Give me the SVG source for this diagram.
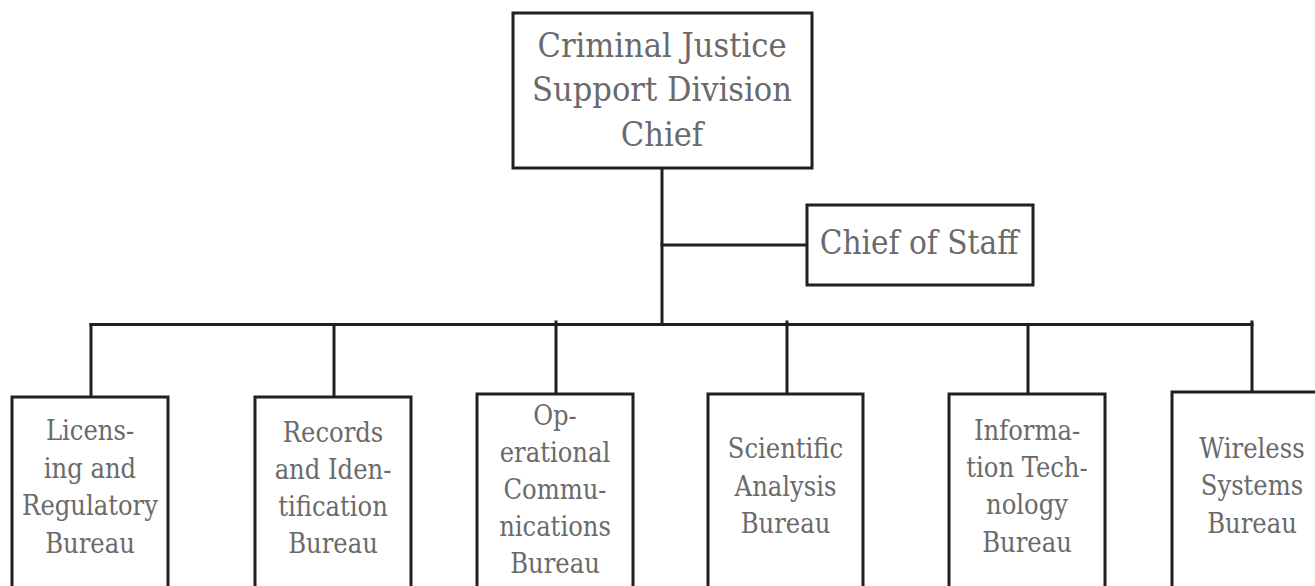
<svg xmlns="http://www.w3.org/2000/svg" width="1315" height="586" viewBox="0 0 1315 586">
<style>
  .box { fill: #ffffff; stroke: #231f20; stroke-width: 3; }
  .wire { stroke: #231f20; stroke-width: 3; fill: none; stroke-linecap: square; }
  .t { font-family: "DejaVu Serif Condensed", "DejaVu Serif", serif; fill: #6a6a6a; text-anchor: middle; }
  .big { font-size: 33px; }
  .top { font-size: 34px; }
  .small { font-size: 27px; }
</style>
<rect width="1315" height="586" fill="#ffffff"/>
<g id="connectors">
  <line class="wire" x1="662" y1="168" x2="662" y2="324.5"/>
  <line class="wire" x1="662" y1="245" x2="807" y2="245"/>
  <line class="wire" x1="91" y1="324.5" x2="1252" y2="324.5"/>
  <line class="wire" x1="91" y1="324.5" x2="91" y2="397"/>
  <line class="wire" x1="334" y1="324.5" x2="334" y2="397"/>
  <line class="wire" x1="556" y1="322" x2="556" y2="394"/>
  <line class="wire" x1="787" y1="322" x2="787" y2="394"/>
  <line class="wire" x1="1028" y1="324.5" x2="1028" y2="397"/>
  <line class="wire" x1="1252" y1="322" x2="1252" y2="395"/>
</g>
<g id="division-chief">
  <rect class="box" x="513" y="13" width="299" height="155"/>
  <text class="t top" x="662" y="57">Criminal Justice</text>
  <text class="t top" x="662" y="101">Support Division</text>
  <text class="t top" x="662" y="146">Chief</text>
</g>
<g id="chief-of-staff">
  <rect class="box" x="807" y="205" width="226" height="80"/>
  <text class="t big" x="919" y="254">Chief of Staff</text>
</g>
<g id="licensing">
  <rect class="box" x="12" y="397" width="156" height="210"/>
  <text class="t small" x="90" y="440">Licens-</text>
  <text class="t small" x="90" y="477.5">ing and</text>
  <text class="t small" x="90" y="515">Regulatory</text>
  <text class="t small" x="90" y="552.5">Bureau</text>
</g>
<g id="records">
  <rect class="box" x="255" y="397" width="156" height="210"/>
  <text class="t small" x="333" y="442">Records</text>
  <text class="t small" x="333" y="479">and Iden-</text>
  <text class="t small" x="333" y="516">tification</text>
  <text class="t small" x="333" y="553">Bureau</text>
</g>
<g id="operational">
  <rect class="box" x="477" y="394" width="156" height="210"/>
  <text class="t small" x="555" y="425">Op-</text>
  <text class="t small" x="555" y="462">erational</text>
  <text class="t small" x="555" y="499">Commu-</text>
  <text class="t small" x="555" y="536">nications</text>
  <text class="t small" x="555" y="573">Bureau</text>
</g>
<g id="scientific">
  <rect class="box" x="708" y="394" width="155" height="210"/>
  <text class="t small" x="785.5" y="458">Scientific</text>
  <text class="t small" x="785.5" y="496">Analysis</text>
  <text class="t small" x="785.5" y="533">Bureau</text>
</g>
<g id="information">
  <rect class="box" x="949" y="394" width="156" height="210"/>
  <text class="t small" x="1027" y="440">Informa-</text>
  <text class="t small" x="1027" y="477">tion Tech-</text>
  <text class="t small" x="1027" y="514">nology</text>
  <text class="t small" x="1027" y="552">Bureau</text>
</g>
<g id="wireless">
  <rect class="box" x="1172" y="392" width="160" height="210"/>
  <text class="t small" x="1252" y="458">Wireless</text>
  <text class="t small" x="1252" y="495">Systems</text>
  <text class="t small" x="1252" y="533">Bureau</text>
</g>
</svg>
